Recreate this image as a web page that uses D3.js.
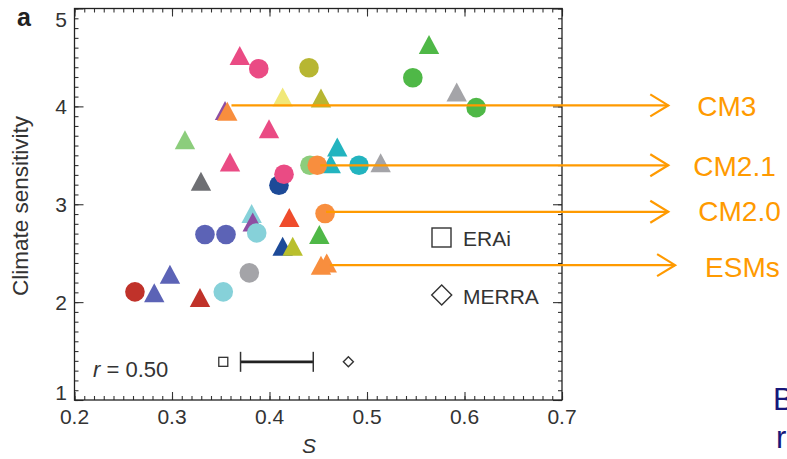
<!DOCTYPE html>
<html>
<head>
<meta charset="utf-8">
<script src="https://cdn.jsdelivr.net/npm/d3@7"></script>
<style>
  body { margin: 0; background: #fff; }
  svg { display: block; font-family: "Liberation Sans", Arial, sans-serif; }
</style>
</head>
<body>
<script>
// points: S value, climate sensitivity, marker shape, model group (draw order matters for overlaps)
var pointS     = [0.389, 0.4405, 0.547, 0.612, 0.3695, 0.5636, 0.592, 0.4135, 0.4528,
                  0.3544, 0.3567, 0.3995, 0.3133, 0.3595, 0.3297, 0.4695,
                  0.4097, 0.4149, 0.4415, 0.4628, 0.449, 0.4918, 0.514,
                  0.3817, 0.3828, 0.3869, 0.3338, 0.3554, 0.4203, 0.457,
                  0.4135, 0.4238, 0.4511, 0.4528, 0.4587, 0.3793, 0.2979,
                  0.262, 0.2818, 0.3287, 0.3526];
var pointCS    = [4.385, 4.395, 4.293, 3.987, 4.52, 4.633, 4.146, 4.095, 4.085,
                  3.959, 3.949, 3.772, 3.66, 3.432, 3.235, 3.585,
                  3.194, 3.306, 3.398, 3.415, 3.398, 3.398, 3.425,
                  2.905, 2.819, 2.707, 2.691, 2.691, 2.864, 2.905,
                  2.571, 2.571, 2.691, 2.378, 2.401, 2.299, 2.286,
                  2.105, 2.095, 2.048, 2.105];
var pointShape = ["circle", "circle", "circle", "circle", "triangle", "triangle", "triangle", "triangle", "triangle",
                  "triangle", "triangle", "triangle", "triangle", "triangle", "triangle", "triangle",
                  "circle", "circle", "circle", "triangle", "circle", "circle", "triangle",
                  "triangle", "triangle", "circle", "circle", "circle", "triangle", "circle",
                  "triangle", "triangle", "triangle", "triangle", "triangle", "circle", "triangle",
                  "circle", "triangle", "triangle", "circle"];
var pointGroup = ["pink", "olive", "green", "green", "pink", "green", "lightgray", "yellow", "olive",
                  "purple", "gfdl", "pink", "lightgreen", "pink", "darkgray", "teal",
                  "navy", "pink", "lightgreen", "teal", "gfdl", "teal", "lightgray",
                  "lightcyan", "purple", "lightcyan", "bluepurple", "bluepurple", "redorange", "gfdl",
                  "navy", "olivey", "green", "gfdl", "gfdl", "lightgray", "bluepurple",
                  "red", "bluepurple", "red", "lightcyan"];

// annotations
var annLabel  = ["CM3", "CM2.1", "CM2.0", "ESMs"];
var annFromS  = [0.361, 0.452, 0.458, 0.462];
var annToS    = [0.809, 0.809, 0.809, 0.816];
var annCS     = [4.01, 3.398, 2.923, 2.378];

// observations
var obsLabel = ["ERAi", "MERRA"];
var obsS     = [0.3526, 0.4809];
var obsRange = [0.3703, 0.4449];
var obsCS    = 1.39;

var xTicks = [0.2, 0.3, 0.4, 0.5, 0.6, 0.7];
var yTicks = [1, 2, 3, 4, 5];

var groupColor = {
  pink: "#ea4b84", olive: "#b7b632", green: "#4fb847", lightgray: "#a4a4a8",
  yellow: "#f1e878", purple: "#8e4ea2", gfdl: "#f88e3e", lightgreen: "#8ccd7c",
  darkgray: "#6e6f73", teal: "#23b4bf", navy: "#1d4a98", lightcyan: "#86d1d9",
  bluepurple: "#5c63b6", redorange: "#ef4c2c", olivey: "#b9bf2c", red: "#c0322a"
};

var W = 787, H = 459;
var svg = d3.select("body").append("svg").attr("width", W).attr("height", H);

var x = d3.scaleLinear().domain([0.2, 0.7]).range([74.5, 562]);
var y = d3.scaleLinear().domain([1, 5]).range([400, 8.5]);

var xMinor = d3.range(0.2, 0.7001, 0.01);
var yMinor = d3.range(1, 5.001, 0.1);

// ticks, all pointing inward
function tickAxis(axisFn, scale, vals, size, tr) {
  var g = svg.append("g").attr("transform", tr)
    .call(axisFn(scale).tickValues(vals).tickSize(size).tickFormat(""));
  g.select(".domain").remove();
  g.selectAll("line").attr("stroke", "#333").attr("stroke-width", 1.1);
  return g;
}
tickAxis(d3.axisBottom, x, xMinor, -4, "translate(0,400)");
tickAxis(d3.axisBottom, x, xTicks, -8, "translate(0,400)");
tickAxis(d3.axisTop, x, xMinor, -4, "translate(0,8.5)");
tickAxis(d3.axisTop, x, xTicks, -8, "translate(0,8.5)");
tickAxis(d3.axisLeft, y, yMinor, -4, "translate(74.5,0)");
tickAxis(d3.axisLeft, y, yTicks, -9, "translate(74.5,0)");
tickAxis(d3.axisRight, y, yMinor, -4, "translate(562,0)");
tickAxis(d3.axisRight, y, yTicks, -9, "translate(562,0)");

svg.append("rect")
  .attr("x", 74.5).attr("y", 8.5)
  .attr("width", 562 - 74.5).attr("height", 400 - 8.5)
  .attr("fill", "none").attr("stroke", "#222").attr("stroke-width", 1.3);

// tick labels
svg.selectAll(".xl").data(xTicks).enter().append("text")
  .attr("x", function(d){ return x(d); })
  .attr("y", 424)
  .attr("text-anchor", "middle")
  .attr("font-size", 21).attr("fill", "#333")
  .text(function(d){ return d3.format(".1f")(d); });

svg.selectAll(".yl").data(yTicks).enter().append("text")
  .attr("x", 67)
  .attr("y", function(d){ return Math.min(Math.max(y(d), 19.5), 392) + 7.5; })
  .attr("text-anchor", "end")
  .attr("font-size", 21).attr("fill", "#333")
  .text(function(d){ return d; });

svg.append("text")
  .attr("transform", "translate(28,206) rotate(-90)")
  .attr("text-anchor", "middle")
  .attr("font-size", 22.5).attr("fill", "#333")
  .text("Climate sensitivity");

svg.append("text")
  .attr("x", 309).attr("y", 453)
  .attr("text-anchor", "middle")
  .attr("font-size", 21).attr("font-style", "italic").attr("fill", "#333")
  .text("S");

svg.append("text")
  .attr("x", 17).attr("y", 26)
  .attr("font-size", 25).attr("font-weight", "bold").attr("fill", "#222")
  .text("a");

var rt = svg.append("text").attr("x", 93).attr("y", 377)
  .attr("font-size", 22).attr("fill", "#333");
rt.append("tspan").attr("font-style", "italic").text("r");
rt.append("tspan").text(" = 0.50");

// markers
var idx = d3.range(pointS.length);
svg.append("g").selectAll("path").data(idx).enter().append("path")
  .attr("d", function(i){
    if (pointShape[i] == "circle") {
      return d3.symbol().type(d3.symbolCircle).size(Math.PI * 9.8 * 9.8)();
    }
    return "M0,-9.5L10.2,9.5L-10.2,9.5Z";
  })
  .attr("transform", function(i){ return "translate(" + x(pointS[i]) + "," + y(pointCS[i]) + ")"; })
  .attr("fill", function(i){ return groupColor[pointGroup[i]]; });

// legend
svg.append("rect").attr("x", 432).attr("y", 228).attr("width", 19).attr("height", 19)
  .attr("fill", "none").attr("stroke", "#333").attr("stroke-width", 1.4);
svg.append("path").attr("d", "M0,-10L10,0L0,10L-10,0Z")
  .attr("transform", "translate(441.7,295)")
  .attr("fill", "none").attr("stroke", "#333").attr("stroke-width", 1.4);
svg.selectAll(".lg").data(obsLabel).enter().append("text")
  .attr("x", 463).attr("y", function(d, i){ return i == 0 ? 246 : 304; })
  .attr("font-size", 21).attr("fill", "#333")
  .text(function(d){ return d; });

// observational estimates
var oy = y(obsCS);
svg.append("rect").attr("x", x(obsS[0]) - 4.5).attr("y", oy - 4.5).attr("width", 9).attr("height", 9)
  .attr("fill", "none").attr("stroke", "#333").attr("stroke-width", 1.3);
svg.append("path").attr("d", "M0,-5L5,0L0,5L-5,0Z")
  .attr("transform", "translate(" + x(obsS[1]) + "," + oy + ")")
  .attr("fill", "none").attr("stroke", "#333").attr("stroke-width", 1.4);
svg.append("line").attr("x1", x(obsRange[0])).attr("x2", x(obsRange[1]))
  .attr("y1", oy).attr("y2", oy).attr("stroke", "#222").attr("stroke-width", 2.6);
svg.selectAll(".cap").data(obsRange).enter().append("line")
  .attr("x1", function(d){ return x(d); }).attr("x2", function(d){ return x(d); })
  .attr("y1", oy - 10).attr("y2", oy + 10)
  .attr("stroke", "#333").attr("stroke-width", 1.5);

// orange annotation arrows
var orange = "#ff9a00";
var ai = d3.range(annLabel.length);
var ann = svg.append("g");
ann.selectAll(".al").data(ai).enter().append("line")
  .attr("x1", function(i){ return x(annFromS[i]); })
  .attr("x2", function(i){ return x(annToS[i]); })
  .attr("y1", function(i){ return y(annCS[i]); })
  .attr("y2", function(i){ return y(annCS[i]); })
  .attr("stroke", orange).attr("stroke-width", 2.2);
ann.selectAll(".ah").data(ai).enter().append("path")
  .attr("d", function(i){
    var tx = x(annToS[i]), ty = y(annCS[i]);
    return "M" + (tx - 18) + "," + (ty - 11) + "L" + tx + "," + ty + "L" + (tx - 18) + "," + (ty + 11);
  })
  .attr("fill", "none").attr("stroke", orange).attr("stroke-width", 2.2);
ann.selectAll(".at").data(ai).enter().append("text")
  .attr("x", function(i){ return x(annToS[i]) + [29, 25, 30, 30][i]; })
  .attr("y", function(i){ return y(annCS[i]) + [11, 11, 9, 12][i]; })
  .attr("font-size", 28).attr("fill", orange)
  .text(function(i){ return annLabel[i]; });

// slide text cut off by the right edge, as in the reference
svg.append("text").attr("x", 773).attr("y", 410).attr("font-size", 31).attr("fill", "#17177a").text("B");
svg.append("text").attr("x", 776).attr("y", 448).attr("font-size", 31).attr("fill", "#17177a").text("r");
</script>
</body>
</html>
